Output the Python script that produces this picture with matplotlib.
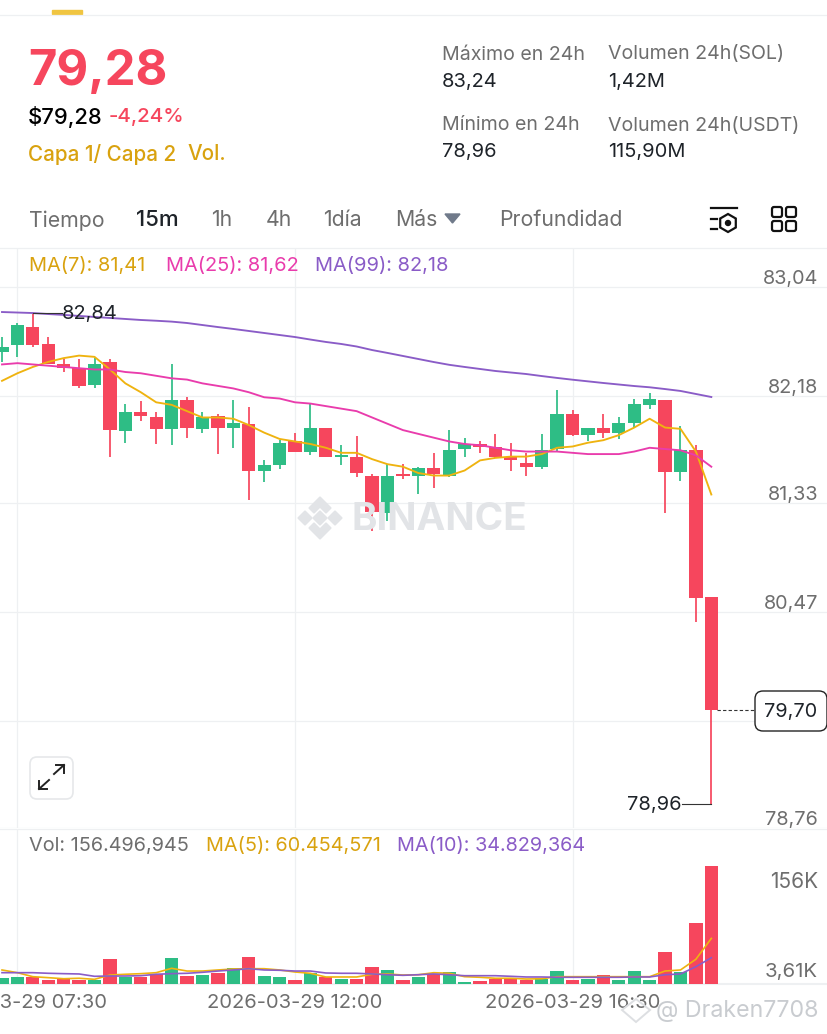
import matplotlib
matplotlib.use("Agg")
import matplotlib.pyplot as plt
from matplotlib.patches import FancyBboxPatch, Polygon, Rectangle, RegularPolygon, Circle

plt.rcParams['font.family'] = ['Inter', 'DejaVu Sans']

# candle data
opens = [82.53, 82.58, 82.73, 82.59, 82.43, 82.40, 82.27, 82.45, 81.90, 82.05, 82.01, 81.92, 82.15, 81.92, 82.02, 81.93,
         81.96, 81.59, 81.63, 81.82, 81.74, 81.93, 81.70, 81.70, 81.55, 81.25, 81.56, 81.55, 81.61, 81.55, 81.76, 81.80,
         81.78, 81.70, 81.65, 81.62, 81.76, 82.04, 81.87, 81.93, 81.89, 81.97, 82.11, 82.15, 81.58, 81.75, 80.59]
closes = [82.57, 82.74, 82.58, 82.43, 82.40, 82.26, 82.43, 81.91, 82.05, 82.02, 81.92, 82.15, 81.93, 82.01, 81.93, 81.97,
          81.59, 81.63, 81.81, 81.74, 81.93, 81.70, 81.71, 81.57, 81.26, 81.55, 81.55, 81.61, 81.56, 81.75, 81.80, 81.78,
          81.70, 81.67, 81.62, 81.75, 82.04, 81.87, 81.93, 81.89, 81.97, 82.12, 82.16, 81.58, 81.75, 80.58, 79.69]
highs = [82.65, 82.76, 82.84, 82.65, 82.47, 82.47, 82.48, 82.47, 82.12, 82.14, 82.05, 82.43, 82.17, 82.05, 82.04, 82.15,
         82.09, 81.67, 81.83, 81.89, 82.12, 81.93, 81.79, 81.86, 81.56, 81.64, 81.64, 81.62, 81.73, 81.91, 81.85, 81.82,
         81.88, 81.81, 81.73, 81.88, 82.23, 82.07, 81.93, 82.04, 82.01, 82.16, 82.20, 82.15, 81.94, 81.79, 80.59]
lows = [82.45, 82.49, 82.57, 82.43, 82.37, 82.24, 82.24, 81.70, 81.81, 81.98, 81.80, 81.79, 81.85, 81.89, 81.72, 81.77,
        81.36, 81.50, 81.60, 81.74, 81.71, 81.70, 81.63, 81.54, 81.11, 81.19, 81.52, 81.40, 81.45, 81.54, 81.70, 81.73,
        81.69, 81.59, 81.55, 81.60, 81.74, 81.86, 81.82, 81.85, 81.84, 81.93, 82.08, 81.25, 81.51, 80.39, 78.95]

ma7 = [82.30, 82.36, 82.41, 82.45, 82.48, 82.50, 82.49, 82.39, 82.28, 82.21, 82.13, 82.11, 82.06, 82.01, 82.01, 82.00,
       81.95, 81.89, 81.84, 81.82, 81.80, 81.77, 81.73, 81.73, 81.68, 81.64, 81.62, 81.57, 81.55, 81.55, 81.59, 81.67,
       81.69, 81.70, 81.70, 81.72, 81.77, 81.78, 81.81, 81.83, 81.87, 81.93, 82.00, 81.93, 81.92, 81.74, 81.40]
ma25 = [82.43, 82.44, 82.43, 82.42, 82.41, 82.40, 82.39, 82.39, 82.37, 82.36, 82.34, 82.32, 82.31, 82.28, 82.26, 82.24,
        82.21, 82.17, 82.16, 82.13, 82.12, 82.10, 82.08, 82.06, 82.01, 81.96, 81.91, 81.88, 81.85, 81.82, 81.80, 81.79,
        81.77, 81.75, 81.74, 81.74, 81.74, 81.73, 81.72, 81.72, 81.72, 81.74, 81.77, 81.76, 81.75, 81.71, 81.62]
ma99 = [82.845, 82.841, 82.837, 82.829, 82.822, 82.814, 82.806, 82.798, 82.790, 82.782, 82.776, 82.769, 82.758, 82.742,
        82.726, 82.711, 82.695, 82.679, 82.663, 82.647, 82.627, 82.608, 82.592, 82.572, 82.544, 82.521, 82.497, 82.473,
        82.449, 82.427, 82.410, 82.394, 82.378, 82.366, 82.354, 82.338, 82.323, 82.309, 82.296, 82.283, 82.271, 82.259,
        82.249, 82.235, 82.220, 82.196, 82.172]

# volumes in millions
volumes = [7.6, 9.3, 8.9, 5.3, 6.2, 4.9, 4.9, 32.8, 9.7, 9.7, 12.9, 34.9, 10.6, 11.5, 14.2, 20.8, 35.4, 10.6, 9.3, 5.7,
           14.2, 8.9, 7.0, 6.2, 22.1, 18.6, 5.7, 9.7, 13.3, 15.9, 3.1, 4.4, 6.2, 6.2, 5.7, 6.2, 16.8, 5.3, 6.6, 11.9,
           4.9, 17.2, 4.9, 42.4, 16.3, 81.3, 156.5]
vol_ma5 = [18.6, 15.0, 9.7, 8.4, 7.0, 7.6, 6.2, 11.9, 12.9, 13.7, 15.0, 20.8, 17.2, 17.2, 18.6, 19.9, 20.3, 20.3, 18.6,
           15.9, 14.2, 9.3, 9.3, 9.3, 12.9, 13.3, 11.9, 12.3, 15.0, 14.2, 9.7, 8.9, 7.6, 7.6, 6.6, 7.0, 9.7, 9.7, 9.7,
           9.7, 9.7, 9.7, 9.7, 17.2, 18.6, 32.8, 60.45]
vol_ma10 = [15.0, 15.0, 15.0, 14.2, 13.7, 13.3, 10.2, 10.6, 10.6, 11.0, 12.9, 13.7, 14.2, 15.5, 17.2, 18.6, 20.3, 18.6,
            18.2, 17.2, 17.2, 14.6, 14.2, 14.2, 13.3, 12.3, 11.5, 12.3, 13.3, 12.3, 11.0, 11.0, 11.0, 10.2, 9.3, 9.3,
            8.9, 8.9, 8.9, 8.9, 8.9, 9.3, 9.3, 12.3, 13.3, 22.9, 34.83]

price_ticks = [83.04, 82.18, 81.33, 80.47, 79.61, 78.76]
price_tick_labels = ['83,04', '82,18', '81,33', '80,47', '', '78,76']
time_ticks = [1, 19, 37]
time_labels = ['2026-03-29 07:30', '2026-03-29 12:00', '2026-03-29 16:30']
high_price = 82.84
low_price = 78.95
last_price = 79.69

RED = '#F6465D'
GREEN = '#2EBD85'
YELLOW = '#EFB30F'
PINK = '#E93CAC'
PURPLE = '#8A5CC7'
GRAY = '#707A8A'
TEXT_GRAY = '#6E6E6E'
DARK = '#1E2329'
GOLD = '#D9A20F'
GRID = '#EEF0F2'

W, H = 828, 1034
fig = plt.figure(figsize=(W / 100, H / 100), dpi=100, facecolor='white')


def px_axes(left, top, right, bottom, **kw):
    return fig.add_axes([left / W, 1 - bottom / H, (right - left) / W, (bottom - top) / H], **kw)


x = list(range(len(closes)))
step = 15.42
xlim = (-2 / step, (W - 2) / step)

# price panel
ax = px_axes(0, 248, W, 828)
ax.set_xlim(xlim)
ax.set_ylim(78.759, 83.352)
ax.axis('off')
for t in price_ticks:
    ax.axhline(t, color=GRID, lw=0.9, zorder=0)
for t in time_ticks:
    ax.axvline(t, color=GRID, lw=0.9, zorder=0)
colors = [GREEN if c >= o else RED for o, c in zip(opens, closes)]
ax.vlines(x, lows, highs, colors=colors, lw=1.25, zorder=2)
ax.bar(x, [abs(c - o) for o, c in zip(opens, closes)], bottom=[min(o, c) for o, c in zip(opens, closes)],
       width=0.86, color=colors, zorder=2)
ax.plot(x, ma7, color=YELLOW, lw=1.35, zorder=3)
ax.plot(x, ma25, color=PINK, lw=1.35, zorder=3)
ax.plot(x, ma99, color=PURPLE, lw=1.35, zorder=3)
for t, lab in zip(price_ticks, price_tick_labels):
    ax.annotate(lab, (1, t), xycoords=('axes fraction', 'data'), xytext=(-7.2, 6.0), textcoords='offset points',
                ha='right', va='center', fontsize=14.3, color=TEXT_GRAY)

# high / low markers
ax.plot([2, 3.9], [high_price, high_price], color='#333333', lw=0.8, zorder=3)
ax.annotate('82,84', (3.9, high_price), xytext=(0, -1), textcoords='offset points', fontsize=14.4, color=DARK,
            va='center', ha='left', zorder=4)
ax.plot([44.1, 46], [low_price, low_price], color='#333333', lw=0.8, zorder=3)
ax.annotate('78,96', (44.1, low_price), xytext=(0, -1), textcoords='offset points', fontsize=14.4, color=DARK,
            va='center', ha='right', zorder=4)
ax.plot([46.4, 48.9], [last_price, last_price], color='#333333', lw=0.8, ls=(0, (3, 2)), zorder=3)

# volume panel
ax2 = px_axes(0, 829, W, 984)
ax2.set_xlim(xlim)
ax2.set_ylim(0, 205.5)
ax2.axis('off')
for t in time_ticks:
    ax2.axvline(t, color=GRID, lw=0.9, zorder=0)
ax2.axhline(0, color=GRID, lw=1.5, zorder=0, clip_on=False)
ax2.bar(x, volumes, width=0.86, color=colors, zorder=2)
ax2.plot(x, vol_ma5, color=YELLOW, lw=1.2, zorder=3)
ax2.plot(x, vol_ma10, color=PURPLE, lw=1.2, zorder=3)
for t, lab in zip(time_ticks, time_labels):
    ax2.annotate(lab, (t, 0), xycoords=('data', 'axes fraction'), xytext=(0, -14), textcoords='offset points',
                 ha='center', va='center', fontsize=14.5, color=TEXT_GRAY, annotation_clip=False)

# everything else sits on an overlay in pixel coordinates
ov = fig.add_axes([0, 0, 1, 1], zorder=5)
ov.set_xlim(0, W)
ov.set_ylim(H, 0)
ov.axis('off')
ov.patch.set_alpha(0)


def label(px, py, s, size=14.1, color=TEXT_GRAY, ha='left', weight='normal', **kw):
    return ov.text(px, py + 2.5, s, fontsize=size, color=color, ha=ha, va='center', fontweight=weight, **kw)


ov.plot([0, W], [15, 15], color=GRID, lw=0.9)
ov.plot([0, W], [248, 248], color=GRID, lw=0.9)
ov.plot([0, W], [829, 829], color=GRID, lw=0.9)
ov.add_patch(Rectangle((52, 10), 30, 4, color='#F0C541'))

label(28, 70, '79,28', 35.3, RED, weight='bold')
label(28, 114, '$79,28', 15.8, '#000000', weight='medium')
label(109, 114, '-4,24%', 14.8, RED, weight='medium')
label(28, 152, 'Capa 1/ Capa 2', 14.9, GOLD, weight='medium')
label(187, 152, 'Vol.', 14.9, GOLD, weight='medium')

label(442, 52, 'Máximo en 24h')
label(442, 80, '83,24', 14.4, DARK)
label(442, 123, 'Mínimo en 24h')
label(442, 150, '78,96', 14.4, DARK)
label(608, 52, 'Volumen 24h(SOL)')
label(608, 80, '1,42M', 14.4, DARK)
label(608, 123, 'Volumen 24h(USDT)')
label(608, 150, '115,90M', 14.4, DARK)

label(29, 218, 'Tiempo', 15.3)
label(136, 218, '15m', 16, DARK, weight='medium')
label(211, 218, '1h', 15.3)
label(266, 218, '4h', 15.3)
label(323, 218, '1día', 15.3)
label(395, 218, 'Más', 15.3)
ov.add_patch(Polygon([[445, 214], [460, 214], [452.5, 223]], color=GRAY))
label(499, 218, 'Profundidad', 15.3)

# toolbar icons
ov.plot([711, 737], [208, 208], color='#111111', lw=1.6)
ov.plot([711, 717], [219, 219], color='#111111', lw=1.6)
ov.plot([711, 717], [229, 229], color='#111111', lw=1.6)
ov.add_patch(RegularPolygon((728, 223), 6, radius=9, fill=False, ec='#111111', lw=1.6))
ov.add_patch(Circle((728, 223), 2.5, color='#111111'))
for bx in (772, 786):
    for by in (207, 221):
        ov.add_patch(FancyBboxPatch((bx, by), 10, 10, boxstyle='round,pad=0,rounding_size=2', fill=False,
                                    ec='#111111', lw=1.6))

label(29, 264, 'MA(7): 81,41', 14.4, GOLD)
label(166, 264, 'MA(25): 81,62', 14.4, PINK)
label(315, 264, 'MA(99): 82,18', 14.4, PURPLE)
label(29, 843, 'Vol: 156.496,945', 14.3, TEXT_GRAY)
label(206, 843, 'MA(5): 60.454,571', 14.3, GOLD)
label(397, 843, 'MA(10): 34.829,364', 14.3, PURPLE)

label(818, 879, '156K', 15, ha='right')
label(818, 969, '3,61K', 14.7, ha='right')

# last price box
ov.add_patch(FancyBboxPatch((755, 691), 72, 40, boxstyle='round,pad=0,rounding_size=8', fc='white', ec='#222222',
                            lw=1))
label(791, 709, '79,70', 14.3, DARK, ha='center')

# expand button, two short arrows with a gap between them
ov.add_patch(FancyBboxPatch((30, 757), 43, 42, boxstyle='round,pad=0,rounding_size=7', fc='white', ec='#E6E8EA',
                            lw=1.2))
ov.plot([39, 49], [789, 780], color='#222222', lw=1.4)
ov.plot([39, 39, 47], [781, 789, 789], color='#222222', lw=1.4)
ov.plot([54, 64], [774, 765], color='#222222', lw=1.4)
ov.plot([56, 64, 64], [765, 765, 773], color='#222222', lw=1.4)

# watermarks
logo = '#E2E4E7'
ov.add_patch(Polygon([[320, 497], [331, 508], [326, 513], [320, 507], [314, 513], [309, 508]], color=logo))
ov.add_patch(Polygon([[320, 539], [331, 528], [326, 523], [320, 529], [314, 523], [309, 528]], color=logo))
ov.add_patch(Polygon([[320, 511], [327, 518], [320, 525], [313, 518]], color=logo))
ov.add_patch(Polygon([[305, 511], [312, 518], [305, 525], [298, 518]], color=logo))
ov.add_patch(Polygon([[335, 511], [342, 518], [335, 525], [328, 518]], color=logo))
label(352, 517, 'BINANCE', 27.8, logo, weight='bold')
label(656, 1008, '@ Draken7708', 16.7, '#C9CCD0')
ov.add_patch(Polygon([[636, 999], [650, 1010], [636, 1022], [622, 1010]], fill=False, ec='#DDDFE2', lw=1.4))

fig.savefig('out.png', dpi=100, facecolor='white')
